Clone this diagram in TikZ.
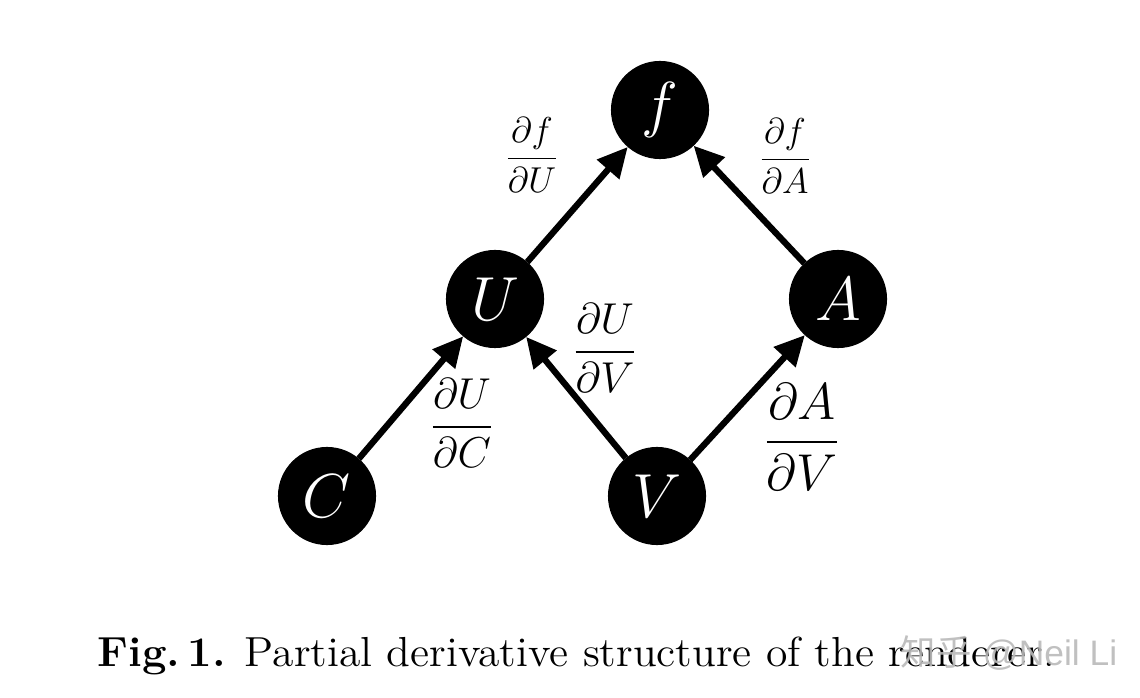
\documentclass[tikz,border=0pt]{standalone}
\usepackage{fontspec}
\usepackage{amsmath}
\usetikzlibrary{arrows.meta}
\newfontfamily\cjk{Noto Sans CJK SC}
\newfontfamily\wmsans{Liberation Sans}
\tikzset{
  vnode/.style={circle, fill=black, draw=black, minimum size=32.3pt, inner sep=0pt,
    text=white, font=\fontsize{20}{24}\selectfont},
  edge/.style={line width=2.1pt, -{Triangle[length=10pt,width=9.5pt]}},
  labsmall/.style={inner sep=0pt, font=\fontsize{12.8}{15}\selectfont},
  lab/.style={inner sep=0pt, font=\fontsize{13.6}{16}\selectfont},
  labbig/.style={inner sep=0pt, font=\fontsize{17}{20}\selectfont}
}
\begin{document}
\begin{tikzpicture}[x=0.33333pt,y=-0.33333pt]
\useasboundingbox (0,0) rectangle (1140,698);
\node[vnode] (f) at (660,110) {$f$};
\node[vnode] (U) at (495,299) {$U$};
\node[vnode] (A) at (838,299) {$A$};
\node[vnode] (C) at (327,496) {$C$};
\node[vnode] (V) at (657,496) {$V$};
\draw[edge] (U) -- (f);
\draw[edge] (A) -- (f);
\draw[edge] (C) -- (U);
\draw[edge] (V) -- (U);
\draw[edge] (V) -- (A);
\node[labsmall] (l1) at (532,155) {$\dfrac{\partial f}{\partial U}$};
\node[labsmall] (l2) at (785,156) {$\dfrac{\partial f}{\partial A}$};
\node[lab] (l3) at (605,348) {$\dfrac{\partial U}{\partial V}$};
\node[lab] (l4) at (462,423) {$\dfrac{\partial U}{\partial C}$};
\node[labbig] (l5) at (802,437) {$\dfrac{\partial A}{\partial V}$};
\node[anchor=base west, inner sep=0pt, font=\fontsize{14}{17}\selectfont] (cap) at (97,666)
  {\scalebox{1.04}[1]{\textbf{Fig.\,1.} Partial derivative structure of the renderer.}};
\node[anchor=base west, inner sep=0pt, text=gray!55, opacity=0.9, font=\fontsize{11.8}{14}\selectfont] (wm) at (900,665)
  {{\cjk 知乎} {\wmsans @Neil Li}};
\end{tikzpicture}
\end{document}
